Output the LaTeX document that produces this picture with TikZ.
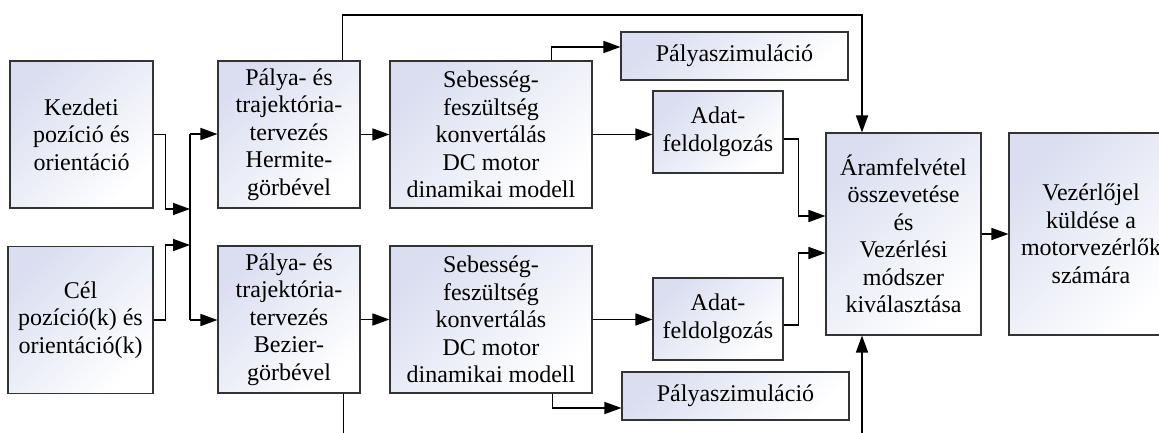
\documentclass[tikz,border=0pt]{standalone}
\usepackage{fontspec}
\setmainfont{Liberation Serif}
\usepackage{tikz}
\usetikzlibrary{arrows.meta,positioning,calc}
\definecolor{boxblue}{RGB}{218,222,240}

\begin{document}
\begin{tikzpicture}[
  x=1pt, y=1pt,
  font=\fontsize{24}{27.5}\selectfont,
  blk/.style={draw=black!80, line width=1.1pt, top color=boxblue, bottom color=white,
              shading angle=45, align=center, inner sep=0pt},
  tall/.style={blk, minimum height=147pt},
  arr/.style={-{Triangle[length=17pt,width=12pt]}, line width=1.6pt},
  ln/.style={line width=1.6pt}
]
\useasboundingbox (0,0) rectangle (1159,432);
\clip (0,0) rectangle (1159,432);

\node[tall, minimum width=143pt] (kezd) at (81.5,297.5) {Kezdeti\\pozíció és\\orientáció};
\node[tall, minimum width=145pt] (cel) at (80.5,112) {Cél\\pozíció(k) és\\orientáció(k)};
\node[tall, minimum width=142pt] (herm) at (289,297.5) {Pálya- és\\trajektória-\\tervezés\\Hermite-\\görbével};
\node[tall, minimum width=142pt] (bez) at (289,112.5) {Pálya- és\\trajektória-\\tervezés\\Bezier-\\görbével};
\node[tall, minimum width=202pt] (seb1) at (491,297.5) {Sebesség-\\feszültség\\konvertálás\\DC motor\\dinamikai modell};
\node[tall, minimum width=202pt] (seb2) at (491,112.5) {Sebesség-\\feszültség\\konvertálás\\DC motor\\dinamikai modell};
\node[blk, minimum width=227pt, minimum height=48pt] (psim1) at (734.5,376) {Pályaszimuláció};
\node[blk, minimum width=130pt, minimum height=82pt] (adat1) at (718,300) {Adat-\\feldolgozás};
\node[blk, minimum width=130pt, minimum height=82pt] (adat2) at (718,113) {Adat-\\feldolgozás};
\node[blk, minimum width=227pt, minimum height=48pt] (psim2) at (735.5,36) {Pályaszimuláció};
\node[blk, minimum width=155pt, minimum height=202pt] (aram) at (903.5,198) {Áramfelvétel\\összevetése\\és\\Vezérlési\\módszer\\kiválasztása};
\node[blk, minimum width=164pt, minimum height=202pt] (vez) at (1091,198) {Vezérlőjel\\küldése a\\motorvezérlők\\számára};

\coordinate (jt) at (190,298);
\coordinate (jb) at (190,112);
\coordinate (jin1) at (190,223);
\coordinate (jin2) at (190,187);
\coordinate (ftop) at (862,417);
\coordinate (fbot) at (862,-12);

\draw[arr] (kezd.east) -- ++(12,0) |- (jin1);
\draw[arr] (cel.east) -- ++(12,0) |- (jin2);
\draw[ln] (jt) -- (jb);
\draw[arr] (jt) -- (herm.west |- jt);
\draw[arr] (jb) -- (bez.west |- jb);
\draw[arr] (herm) -- (seb1);
\draw[arr] (bez) -- (seb2);
\draw[arr] ([xshift=-18pt]herm.north east) |- (ftop) -- (aram.north -| ftop);
\draw[arr] ([xshift=-17pt]bez.south east) |- (fbot) -- (aram.south -| fbot);
\draw[arr] ([xshift=-41pt]seb1.north east) |- ([yshift=9pt]psim1.west);
\draw[arr] (seb1.east) -- (seb1.east -| adat1.west);
\draw[arr] ([yshift=-7pt]adat1.east) -- ++(15,0) |- ([yshift=18pt]aram.west);
\draw[arr] (seb2.east) -- (seb2.east -| adat2.west);
\draw[arr] ([yshift=-6pt]adat2.east) -- ++(15,0) |- ([yshift=-19pt]aram.west);
\draw[arr] ([xshift=-40pt]seb2.south east) |- ([yshift=-12pt]psim2.west);
\draw[arr] (aram) -- (vez);
\end{tikzpicture}
\end{document}
